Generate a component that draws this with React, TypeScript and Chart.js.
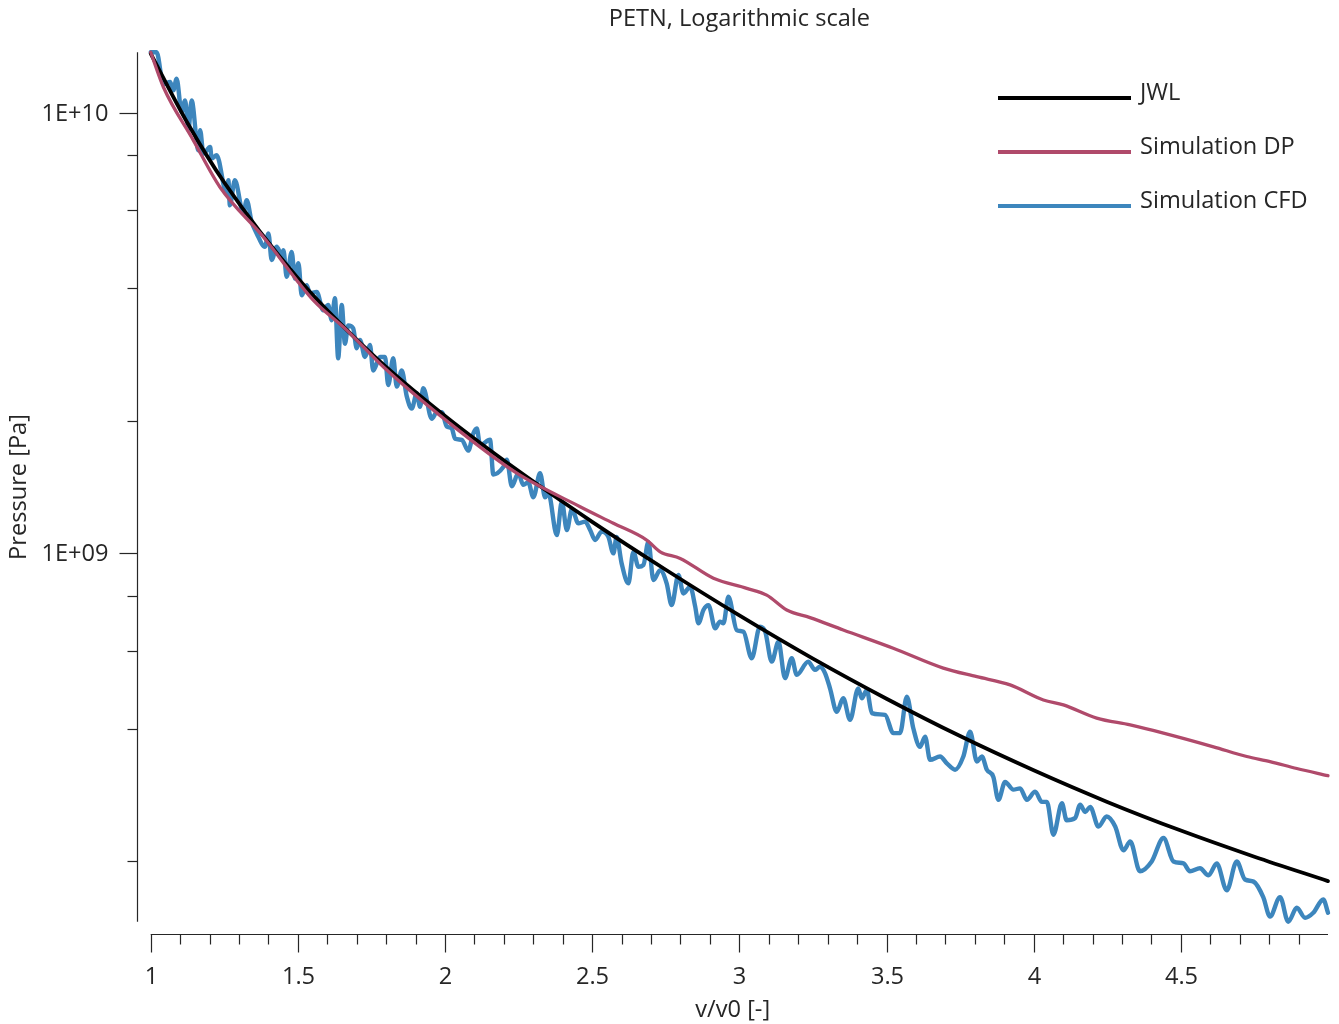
import { useEffect, useRef } from "react";
import { Chart, registerables } from "chart.js";

Chart.register(...registerables);

// ---------- data ----------
const titleText = "PETN, Logarithmic scale";
const xTitle = "v/v0 [-]";
const yTitle = "Pressure [Pa]";
const seriesNames = ["JWL", "Simulation DP", "Simulation CFD"];
const seriesColors = ["#000000", "#b04a6b", "#3d86bd"];
const seriesWidths = [3.8, 3.3, 4.4];

const xMin = 1;
const xMax = 5;
const yMin = 1.46e8;
const yMax = 1.37e10;
const xTickLabels = ["1", "1.5", "2", "2.5", "3", "3.5", "4", "4.5"];
const yTickLabels = ["1E+09", "1E+10"];

const jwlX = [1.0, 1.125, 1.25, 1.5, 1.75, 2.0, 2.25, 2.5, 2.75, 3.0, 3.25, 3.5, 3.75, 4.0, 4.25, 4.5, 4.75, 5.0];
const jwlP = [1.361e10, 9.47e9, 6.94e9, 4.21e9, 2.84e9, 2.05e9, 1.537e9, 1.179e9, 9.18e8, 7.23e8, 5.77e8, 4.68e8, 3.85e8, 3.22e8, 2.73e8, 2.35e8, 2.05e8, 1.805e8];

const dpX = [1.0, 1.043, 1.145, 1.235, 1.383, 1.553, 1.666, 1.79, 2.017, 2.244, 2.459, 2.572, 2.685, 2.731, 2.799, 2.912, 3.025, 3.093, 3.161, 3.24, 3.353, 3.523, 3.693, 3.807, 3.92, 4.033, 4.101, 4.214, 4.328, 4.441, 4.611, 4.724, 4.803, 4.894, 5.0];
const dpP = [1.37e10, 1.143e10, 8.65e9, 6.78e9, 5.22e9, 3.75e9, 3.21e9, 2.65e9, 1.97e9, 1.52e9, 1.276e9, 1.17e9, 1.072e9, 1.008e9, 9.74e8, 8.78e8, 8.33e8, 8.04e8, 7.44e8, 7.15e8, 6.7e8, 6.09e8, 5.49e8, 5.25e8, 5.03e8, 4.65e8, 4.53e8, 4.23e8, 4.08e8, 3.91e8, 3.64e8, 3.46e8, 3.37e8, 3.25e8, 3.13e8];

const cfdX = [
  1.0, 1.02, 1.043, 1.066, 1.077, 1.088, 1.105, 1.117, 1.128, 1.139, 1.162, 1.168, 1.179, 1.202, 1.207, 1.224, 1.258, 1.264, 1.269, 1.286,
  1.315, 1.326, 1.343, 1.36, 1.388, 1.4, 1.411, 1.428, 1.445, 1.451, 1.462, 1.479, 1.49, 1.502, 1.513, 1.53, 1.541, 1.564, 1.586, 1.603,
  1.615, 1.626, 1.637, 1.649, 1.66, 1.671, 1.688, 1.7, 1.711, 1.728, 1.745, 1.756, 1.779, 1.796, 1.807, 1.824, 1.836, 1.853, 1.87, 1.887,
  1.904, 1.915, 1.926, 1.955, 1.972, 1.989, 2.006, 2.023, 2.034, 2.057, 2.079, 2.096, 2.108, 2.119, 2.153, 2.164, 2.198, 2.21, 2.227, 2.249,
  2.266, 2.283, 2.3, 2.323, 2.34, 2.351, 2.38, 2.397, 2.414, 2.431, 2.453, 2.476, 2.493, 2.51, 2.532, 2.555, 2.572, 2.583, 2.6, 2.623,
  2.64, 2.657, 2.674, 2.691, 2.708, 2.731, 2.753, 2.77, 2.793, 2.81, 2.833, 2.85, 2.861, 2.878, 2.895, 2.918, 2.934, 2.946, 2.963, 2.991,
  3.014, 3.042, 3.07, 3.088, 3.11, 3.133, 3.155, 3.178, 3.195, 3.234, 3.257, 3.274, 3.291, 3.308, 3.331, 3.353, 3.376, 3.404, 3.416, 3.433,
  3.45, 3.495, 3.523, 3.546, 3.569, 3.591, 3.614, 3.631, 3.648, 3.682, 3.705, 3.733, 3.761, 3.784, 3.807, 3.824, 3.841, 3.863, 3.88, 3.903,
  3.931, 3.954, 3.977, 4.005, 4.028, 4.045, 4.067, 4.096, 4.112, 4.141, 4.158, 4.175, 4.192, 4.22, 4.248, 4.277, 4.305, 4.328, 4.361, 4.401,
  4.441, 4.475, 4.509, 4.531, 4.565, 4.594, 4.622, 4.656, 4.69, 4.718, 4.747, 4.78, 4.803, 4.837, 4.865, 4.894, 4.922, 4.95, 4.984, 5.0,
];
const cfdP = [
  1.37e10, 1.37e10, 1.16e10, 1.173e10, 1.123e10, 1.194e10, 1.003e10, 1.066e10, 9.12e9, 1.066e10, 8.21e9, 9.12e9, 8.07e9, 8.36e9, 7.87e9, 8.0e9, 6.55e9, 7.02e9, 6.16e9, 7.02e9,
  5.9e9, 6.33e9, 5.65e9, 5.32e9, 4.96e9, 5.32e9, 4.63e9, 4.96e9, 4.75e9, 4.87e9, 4.24e9, 4.83e9, 4.2e9, 4.55e9, 3.85e9, 4.06e9, 3.89e9, 3.92e9, 3.56e9, 3.66e9,
  3.38e9, 3.79e9, 2.77e9, 3.66e9, 2.99e9, 3.29e9, 3.24e9, 2.92e9, 3.05e9, 2.79e9, 2.97e9, 2.6e9, 2.79e9, 2.79e9, 2.41e9, 2.77e9, 2.39e9, 2.6e9, 2.27e9, 2.13e9,
  2.31e9, 2.15e9, 2.37e9, 2.02e9, 2.09e9, 2.09e9, 1.94e9, 1.92e9, 1.82e9, 1.81e9, 1.71e9, 1.87e9, 1.92e9, 1.76e9, 1.81e9, 1.51e9, 1.57e9, 1.63e9, 1.42e9, 1.52e9,
  1.43e9, 1.45e9, 1.34e9, 1.52e9, 1.34e9, 1.37e9, 1.1e9, 1.31e9, 1.129e9, 1.26e9, 1.17e9, 1.18e9, 1.13e9, 1.072e9, 1.12e9, 1.09e9, 1.0e9, 1.09e9, 9.49e8, 8.55e8,
  1.008e9, 9.32e8, 9.41e8, 1.062e9, 8.7e8, 9.16e8, 8.55e8, 7.63e8, 8.93e8, 8.11e8, 8.4e8, 7.57e8, 6.94e8, 7.44e8, 7.63e8, 6.76e8, 7.0e8, 6.94e8, 7.97e8, 6.7e8,
  6.64e8, 5.78e8, 6.82e8, 6.64e8, 5.68e8, 6.3e8, 5.21e8, 5.78e8, 5.3e8, 5.68e8, 5.44e8, 5.53e8, 5.35e8, 4.94e8, 4.37e8, 4.69e8, 4.19e8, 4.94e8, 4.69e8, 4.9e8,
  4.34e8, 4.3e8, 3.91e8, 3.91e8, 4.73e8, 4.01e8, 3.64e8, 3.84e8, 3.4e8, 3.46e8, 3.34e8, 3.23e8, 3.46e8, 3.94e8, 3.37e8, 3.46e8, 3.23e8, 3.11e8, 2.76e8, 3.03e8,
  2.91e8, 2.93e8, 2.76e8, 2.88e8, 2.73e8, 2.73e8, 2.3e8, 2.71e8, 2.48e8, 2.51e8, 2.69e8, 2.59e8, 2.66e8, 2.4e8, 2.53e8, 2.4e8, 2.12e8, 2.22e8, 1.9e8, 2.0e8,
  2.26e8, 2.0e8, 1.98e8, 1.9e8, 1.93e8, 1.86e8, 1.98e8, 1.72e8, 2.0e8, 1.82e8, 1.8e8, 1.66e8, 1.5e8, 1.66e8, 1.46e8, 1.57e8, 1.49e8, 1.53e8, 1.64e8, 1.53e8,
];

const FONT = "'Open Sans', 'Noto Sans', sans-serif";
const TEXT_COLOR = "#262626";
const FONT_SIZE = 23.6;

function pairs(xs: number[], ys: number[]) {
  return xs.map((x, i) => ({ x, y: ys[i] }));
}

export default function App() {
  const ref = useRef<HTMLCanvasElement>(null);

  useEffect(() => {
    document.body.style.margin = "0";
    document.body.style.overflow = "hidden";
    const canvas = ref.current!;

    const axesPlugin = {
      id: "customAxes",
      afterDraw(chart: any) {
        const { ctx, chartArea, scales } = chart;
        const xs = scales.x;
        const ys = scales.y;
        const axisX = Math.round(chartArea.left - 14) + 0.5;
        const axisY = Math.round(chartArea.bottom + 12) + 0.5;
        ctx.save();
        ctx.strokeStyle = TEXT_COLOR;
        ctx.fillStyle = TEXT_COLOR;
        ctx.lineWidth = 1.2;

        // Y axis
        ctx.beginPath();
        ctx.moveTo(axisX, chartArea.top);
        ctx.lineTo(axisX, chartArea.bottom);
        ctx.stroke();
        ctx.font = `${FONT_SIZE}px ${FONT}`;
        ctx.textAlign = "right";
        ctx.textBaseline = "middle";
        const decades = [8, 9, 10];
        const mults = [1, 2, 4, 6, 8];
        for (const d of decades) {
          for (const m of mults) {
            const v = m * Math.pow(10, d);
            if (v < yMin || v > yMax) continue;
            const py = Math.round(ys.getPixelForValue(v)) + 0.5;
            const len = m === 1 ? 18 : 10;
            ctx.beginPath();
            ctx.moveTo(axisX - len, py);
            ctx.lineTo(axisX, py);
            ctx.stroke();
            if (m === 1) {
              const label = yTickLabels[d - 9];
              if (label) ctx.fillText(label, axisX - 29, py + 1);
            }
          }
        }

        // X axis
        ctx.beginPath();
        ctx.moveTo(chartArea.left, axisY);
        ctx.lineTo(chartArea.right, axisY);
        ctx.stroke();
        ctx.textAlign = "center";
        ctx.textBaseline = "alphabetic";
        for (let i = 10; i < 50; i++) {
          const v = i / 10;
          const px = Math.round(xs.getPixelForValue(v)) + 0.5;
          const major = i % 5 === 0;
          ctx.beginPath();
          ctx.moveTo(px, axisY);
          ctx.lineTo(px, axisY + (major ? 18 : 10));
          ctx.stroke();
          if (major) {
            const label = xTickLabels[(i - 10) / 5];
            ctx.fillText(label, px, axisY + 49);
          }
        }

        // axis titles
        ctx.textAlign = "center";
        ctx.textBaseline = "middle";
        ctx.fillText(xTitle, (axisX + chartArea.right) / 2, 1010);
        ctx.save();
        ctx.translate(19, (chartArea.top + chartArea.bottom) / 2);
        ctx.rotate(-Math.PI / 2);
        ctx.fillText(yTitle, 0, 0);
        ctx.restore();

        // title
        ctx.fillText(titleText, (chartArea.left + chartArea.right) / 2, 19);

        // legend
        const legY = [98, 152, 206];
        ctx.textAlign = "left";
        ctx.textBaseline = "alphabetic";
        seriesNames.forEach((name, i) => {
          ctx.strokeStyle = seriesColors[i];
          ctx.lineWidth = 4;
          ctx.beginPath();
          ctx.moveTo(998, legY[i]);
          ctx.lineTo(1131, legY[i]);
          ctx.stroke();
          ctx.fillStyle = TEXT_COLOR;
          ctx.fillText(name, 1140, legY[i] + 2);
        });
        ctx.restore();
      },
    };

    const mk = (label: string, xs: number[], ys: number[], i: number) => ({
      label,
      data: pairs(xs, ys),
      borderColor: seriesColors[i],
      backgroundColor: seriesColors[i],
      borderWidth: seriesWidths[i],
      pointRadius: 0,
      fill: false,
      cubicInterpolationMode: "monotone" as const,
      borderJoinStyle: "round" as const,
      borderCapStyle: "round" as const,
      clip: false as const,
    });

    const chart = new Chart(canvas, {
      type: "line",
      data: {
        datasets: [
          mk(seriesNames[1], dpX, dpP, 1),
          mk(seriesNames[0], jwlX, jwlP, 0),
          mk(seriesNames[2], cfdX, cfdP, 2),
        ],
      },
      options: {
        animation: false,
        responsive: false,
        devicePixelRatio: 1,
        layout: { padding: { left: 150.7, right: 11, top: 52.3, bottom: 102.3 } },
        plugins: { legend: { display: false }, title: { display: false }, tooltip: { enabled: false } },
        scales: {
          x: { type: "linear", min: xMin, max: xMax, display: false },
          y: { type: "logarithmic", min: yMin, max: yMax, display: false },
        },
      },
      plugins: [axesPlugin],
    });
    return () => chart.destroy();
  }, []);

  return <canvas ref={ref} width={1339} height={1024} style={{ display: "block" }} />;
}
